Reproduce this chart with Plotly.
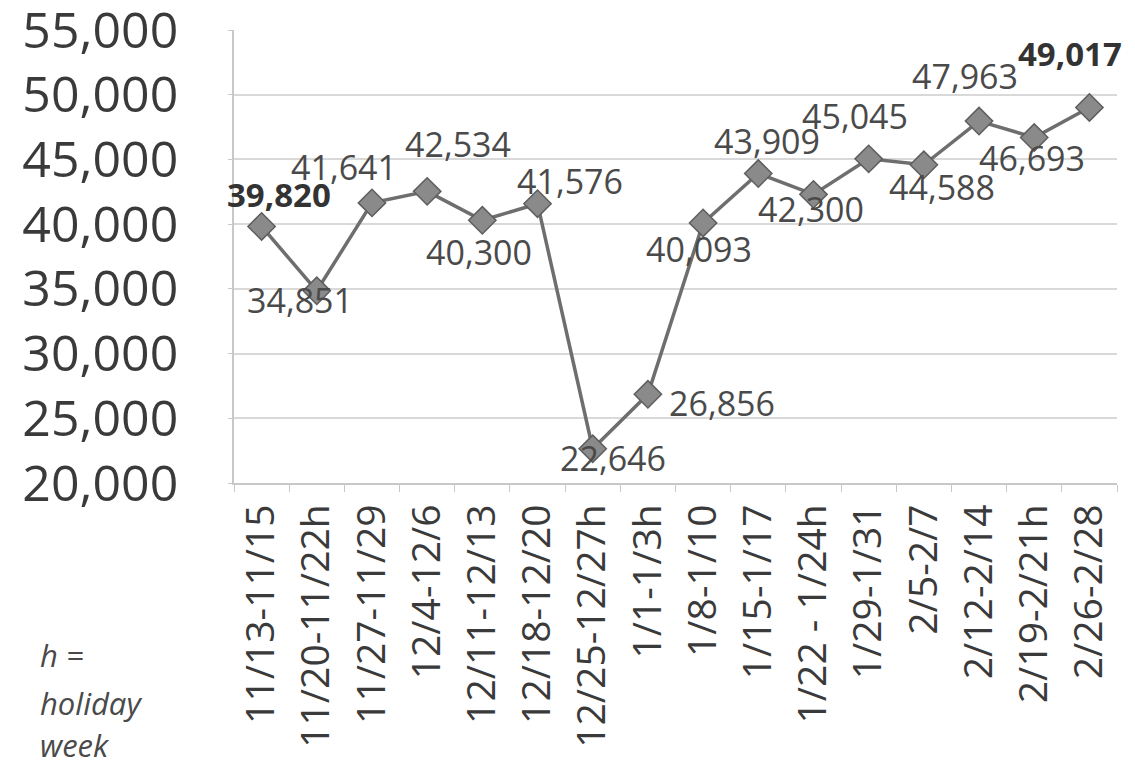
import plotly.graph_objects as go

weeks = ["11/13-11/15", "11/20-11/22h", "11/27-11/29", "12/4-12/6", "12/11-12/13",
         "12/18-12/20", "12/25-12/27h", "1/1-1/3h", "1/8-1/10", "1/15-1/17",
         "1/22 - 1/24h", "1/29-1/31", "2/5-2/7", "2/12-2/14", "2/19-2/21h", "2/26-2/28"]
values = [39820, 34851, 41641, 42534, 40300, 41576, 22646, 26856, 40093,
          43909, 42300, 45045, 44588, 47963, 46693, 49017]
bold_idx = [0, 15]

# label offsets in pixels (style only)
label_dx = [17, -17, -28, 31, -3, 32, 20, 74, -4, 9, -2, -14, 18, -14, -2, -19]
label_dy = [32, -9, 36, 47, -32, 23, -9, -9, -26, 33, -15, 43, -22, 45, -20, 54]

fig = go.Figure()
fig.add_trace(go.Scatter(
    x=weeks, y=values, mode="lines+markers",
    line=dict(color="#6e6e6e", width=3.5),
    marker=dict(symbol="diamond", size=21, color="#8a8a8a",
                line=dict(color="#5e5e5e", width=1.5)),
    hoverinfo="x+y", showlegend=False,
))

for i, (w, v) in enumerate(zip(weeks, values)):
    txt = f"{v:,}"
    bold = i in bold_idx
    fig.add_annotation(
        x=w, y=v, text=f"<b>{txt}</b>" if bold else txt, showarrow=False,
        xshift=label_dx[i], yshift=label_dy[i],
        font=dict(family="Open Sans", size=34 if not bold else 33,
                  color="#333333" if bold else "#4a4a4a"),
    )

for txt, yy in [("h =", -0.38), ("holiday", -0.485), ("week", -0.578)]:
    fig.add_annotation(
        xref="paper", yref="paper", x=-0.222, y=yy, text=f"<i>{txt}</i>",
        showarrow=False, xanchor="left", yanchor="middle",
        font=dict(family="Open Sans", size=31, color="#4a4a4a"),
    )

fig.update_layout(
    width=1127, height=760,
    margin=dict(l=226, r=18, t=22, b=285, autoexpand=False),
    paper_bgcolor="white", plot_bgcolor="white",
    xaxis=dict(
        type="category", tickangle=-90, tickson="boundaries",
        ticks="outside", ticklen=7, tickcolor="#c8c8c8",
        showline=True, linecolor="#c8c8c8", linewidth=1.5,
        showgrid=False, range=[-0.5, 15.5],
        tickfont=dict(family="Open Sans", size=39, color="#3a3a3a"),
        ticklabelstandoff=4,
    ),
    yaxis=dict(
        range=[20000, 55000], tickvals=[20000, 25000, 30000, 35000, 40000, 45000, 50000, 55000],
        tickformat=",", showgrid=True, gridcolor="#d9d9d9", gridwidth=1.5,
        showline=True, linecolor="#c8c8c8", linewidth=1.5,
        ticks="outside", ticklen=4, tickcolor="#c8c8c8",
        zeroline=False, ticklabeloverflow="allow",
        tickfont=dict(family="Open Sans", size=50, color="#3a3a3a"),
        ticklabelstandoff=40,
    ),
)

fig.write_html("out.html")
